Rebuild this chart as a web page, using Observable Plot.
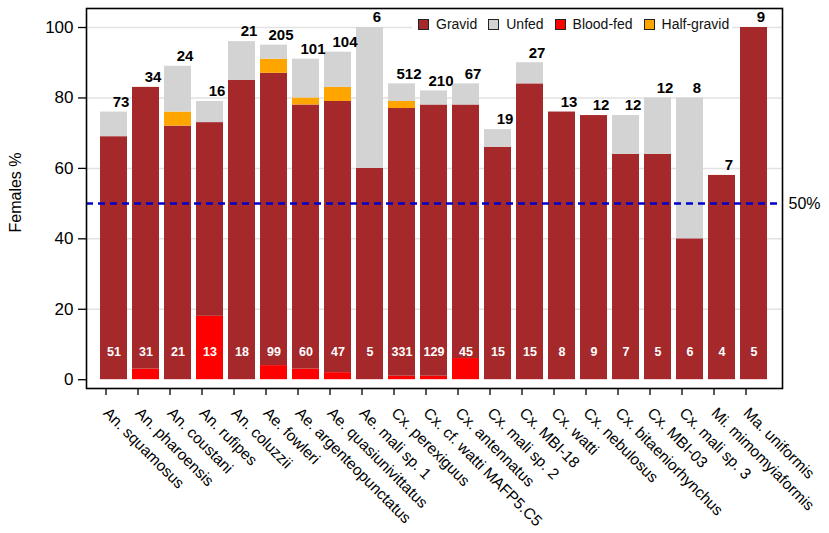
<!DOCTYPE html>
<html>
<head>
<meta charset="utf-8">
<script src="https://cdn.jsdelivr.net/npm/d3@7"></script>
<script src="https://cdn.jsdelivr.net/npm/@observablehq/plot@0.6"></script>
<style>
  html, body { margin: 0; padding: 0; background: #fff; }
  #wrap { position: relative; width: 829px; height: 533px; font-family: "Liberation Sans", Arial, sans-serif; }
  #legend { position: absolute; left: 412px; top: 12px; width: 320px; height: 24px; background: #fff;
            display: flex; align-items: center; padding-left: 6px; box-sizing: border-box; font-size: 14px; color: #111; }
  .item { display: flex; align-items: center; margin-right: 11px; white-space: nowrap; }
  .sw { width: 9px; height: 9px; border: 1px solid #222; margin-right: 7px; }
  svg { display: block; }
</style>
</head>
<body>
<div id="wrap"></div>
<script>
const species = [
  "An. squamosus", "An. pharoensis", "An. coustani", "An. rufipes", "An. coluzzii",
  "Ae. fowleri", "Ae. argenteopunctatus", "Ae. quasiunivittatus", "Ae. mali sp. 1",
  "Cx. perexiguus", "Cx. cf. watti MAFP5.C5", "Cx. antennatus", "Cx. mali sp. 2",
  "Cx. MBI-18", "Cx. watti", "Cx. nebulosus", "Cx. bitaeniorhynchus", "Cx. MBI-03",
  "Cx. mali sp. 3", "Mi. mimomyiaformis", "Ma. uniformis"
];
// segment percentages (stacked bottom to top: Blood-fed, Gravid, Half-gravid, Unfed)
const bloodFed   = [0, 3, 0, 18, 0, 4, 3, 2, 0, 1, 1, 6, 0, 0, 0, 0, 0, 0, 0, 0, 0];
const gravid     = [69, 80, 72, 55, 85, 83, 75, 77, 60, 76, 77, 72, 66, 84, 76, 75, 64, 64, 40, 58, 100];
const halfGravid = [0, 0, 4, 0, 0, 4, 2, 4, 0, 2, 0, 0, 0, 0, 0, 0, 0, 0, 0, 0, 0];
const unfed      = [7, 0, 13, 6, 11, 4, 11, 10, 40, 5, 4, 6, 5, 6, 0, 0, 11, 16, 40, 0, 0];
// numbers of females
const totalN  = [73, 34, 24, 16, 21, 205, 101, 104, 6, 512, 210, 67, 19, 27, 13, 12, 12, 12, 8, 7, 9];
const gravidN = [51, 31, 21, 13, 18, 99, 60, 47, 5, 331, 129, 45, 15, 15, 8, 9, 7, 5, 6, 4, 5];

const statuses = ["Blood-fed", "Gravid", "Half-gravid", "Unfed"];
const colors = ["#ff0000", "#a5282a", "#ffa500", "#d3d3d3"];
const legendOrder = ["Gravid", "Unfed", "Blood-fed", "Half-gravid"];
const threshold = 50;
const innerLabelY = 8;

const series = [bloodFed, gravid, halfGravid, unfed];
const rows = [];
species.forEach((s, i) => {
  statuses.forEach((st, k) => rows.push({species: s, status: st, value: series[k][i]}));
});
const summary = species.map((s, i) => ({
  species: s,
  top: bloodFed[i] + gravid[i] + halfGravid[i] + unfed[i],
  n: totalN[i],
  ng: gravidN[i]
}));

const chart = Plot.plot({
  width: 829,
  height: 533,
  marginLeft: 86,
  marginRight: 47,
  marginTop: 8,
  marginBottom: 145,
  style: {fontFamily: "'Liberation Sans', Arial, sans-serif", color: "#000", background: "#fff"},
  x: {domain: species, range: [96, 771], paddingInner: 0.17, paddingOuter: 0},
  y: {domain: [-2.5, 105.4]},
  color: {domain: statuses, range: colors},
  marks: [
    Plot.gridY([20, 40, 60, 80, 100], {stroke: "#e2e2e2", strokeOpacity: 1, strokeWidth: 1.5}),
    Plot.barY(rows, {x: "species", y: "value", fill: "status"}),
    Plot.ruleY([threshold], {stroke: "#0000cc", strokeWidth: 2.5, strokeDasharray: "7,5"}),
    Plot.text(["50%"], {y: () => threshold, text: d => d, frameAnchor: "right", textAnchor: "start", dx: 6, fontSize: 16, fill: "#000"}),
    Plot.text(summary, {x: "species", y: "top", text: "n", dx: 7, dy: -10, fontSize: 15, fontWeight: "bold", fill: "#000"}),
    Plot.text(summary, {x: "species", y: () => innerLabelY, text: "ng", fontSize: 12.5, fontWeight: "bold", fill: "#fff"}),
    Plot.axisY({ticks: [0, 20, 40, 60, 80, 100], tickSize: 8, tickPadding: 5, fontSize: 17, label: null, strokeWidth: 1.3}),
    Plot.axisX({tickRotate: 45, tickSize: 7, tickPadding: 15, dx: -8, fontSize: 15.5, label: null, strokeWidth: 1.3}),
    Plot.text(["Females %"], {text: d => d, frameAnchor: "left", textAnchor: "middle", dx: -71, dy: -6, rotate: -90, fontSize: 16, fill: "#000"}),
    Plot.frame({stroke: "#000", strokeWidth: 1.6})
  ]
});

const wrap = document.getElementById("wrap");
wrap.appendChild(chart);
const legend = document.createElement("div");
legend.id = "legend";
legendOrder.forEach(name => {
  const item = document.createElement("div");
  item.className = "item";
  const sw = document.createElement("div");
  sw.className = "sw";
  sw.style.background = colors[statuses.indexOf(name)];
  const lab = document.createElement("span");
  lab.textContent = name;
  item.appendChild(sw);
  item.appendChild(lab);
  legend.appendChild(item);
});
wrap.appendChild(legend);
</script>
</body>
</html>
